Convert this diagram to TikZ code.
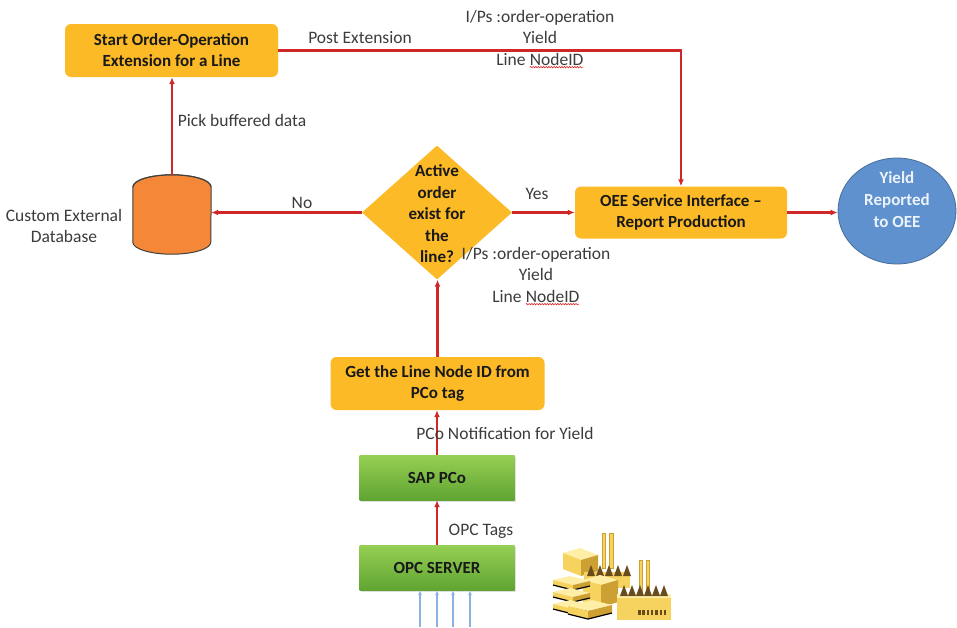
\documentclass[tikz,border=0pt]{standalone}
\usepackage{fontspec}
\setmainfont{Carlito}
\usetikzlibrary{arrows.meta,shapes.geometric,calc,decorations.pathmorphing,shadows}

\definecolor{boxyellow}{RGB}{252,186,38}
\definecolor{flowred}{RGB}{208,40,40}
\definecolor{labelgray}{RGB}{60,60,60}
\definecolor{greentop}{RGB}{150,208,84}
\definecolor{greenbot}{RGB}{96,164,50}
\definecolor{ellblue}{RGB}{94,145,205}
\definecolor{dborange}{RGB}{244,136,56}
\definecolor{pcoblue}{RGB}{140,178,226}
\definecolor{spellred}{RGB}{220,40,40}
\definecolor{fLight}{RGB}{255,238,165}
\definecolor{fMid}{RGB}{246,210,95}
\definecolor{fDark}{RGB}{205,160,52}
\definecolor{fBrown}{RGB}{105,76,30}

% red wavy underline beneath a word
\newcommand\spellmark[1]{\tikz[baseline=(sw.base)]{\node[inner sep=0pt,outer sep=0pt](sw){#1};\draw[spellred,line width=0.6pt,decorate,decoration={snake,amplitude=0.7pt,segment length=2.6pt}]([yshift=-2pt]sw.south west)--([yshift=-2pt]sw.south east);}}

\tikzset{
  procbox/.style={rectangle, rounded corners=6pt, fill=boxyellow, text=black!90,
    font=\bfseries\fontsize{17}{21}\selectfont, align=center, inner sep=0pt},
  greenbox/.style={rectangle, top color=greentop, bottom color=greenbot, text=black!90,
    font=\bfseries\fontsize{17}{21}\selectfont, align=center, inner sep=0pt,
    drop shadow={opacity=0.25, shadow xshift=1pt, shadow yshift=-2pt}},
  lbl/.style={text=labelgray, font=\fontsize{17.5}{21.5}\selectfont, align=center, inner sep=0pt},
  flow/.style={draw=flowred, line width=2.2pt, -{Latex[length=7pt,width=6pt]}},
  sensor/.style={draw=pcoblue, line width=1.3pt, -{Latex[length=5pt,width=4pt]}},
}

\begin{document}
\begin{tikzpicture}[x=1pt,y=-1pt]
\useasboundingbox (0,0) rectangle (957,627);
\fill[white] (0,0) rectangle (957,627);

% process steps
\node[procbox, minimum width=213, minimum height=53] (start) at (171.5,50.5)
  {Start Order-Operation\\Extension for a Line};
\node[procbox, minimum width=212, minimum height=52] (oee) at (681,212.5)
  {OEE Service Interface --\\Report Production};
\node[procbox, minimum width=214, minimum height=53] (getid) at (437.5,383.5)
  {Get the Line Node ID from\\PCo tag};
\node[greenbox, minimum width=155, minimum height=45] (sap) at (437,477.5) {SAP PCo};
\node[greenbox, minimum width=155, minimum height=45] (opc) at (437,567.5) {OPC SERVER};

% decision
\node[diamond, fill=boxyellow, minimum width=150, minimum height=134, inner sep=0pt] (dec) at (437,212.5) {};
\node[procbox, fill=none, font=\bfseries\fontsize{17}{21.5}\selectfont] (dectext) at (437,214)
  {Active\\order\\exist for\\the\\line?};

% result
\node[ellipse, fill=ellblue, draw=ellblue!75!black, line width=0.8pt, minimum width=118, minimum height=106, inner sep=0pt] (yield) at (897,211) {};
\node[lbl, text={rgb,255:red,236;green,243;blue,252}, font=\bfseries\fontsize{17}{22}\selectfont] (yieldtext) at (897,200)
  {Yield\\Reported\\to OEE};

% database cylinder
\node[minimum width=78, minimum height=79, inner sep=0pt] (db) at (172,214.5) {};
\path[fill=dborange, draw=black!75, line width=1pt]
  (db.north west) ++(0,12) -- ($(db.south west)+(0,-12)$)
  arc[start angle=180, end angle=360, x radius=39, y radius=-12]
  -- ($(db.north east)+(0,12)$)
  arc[start angle=0, end angle=180, x radius=39, y radius=-12] -- cycle;
\draw[black!75, line width=1pt] ($(db.north west)+(0,12)$)
  arc[start angle=180, end angle=360, x radius=39, y radius=12];
\node[lbl] (dbtext) at (64,226) {Custom External\\Database};

% connectors
\draw[flow] (start.east) -| (oee.north);
\draw[flow] (db.north) -- (db.north |- start.south);
\draw[flow] (dec.west) -- (dec.west -| db.east);
\draw[flow] (dec.east) -- (dec.east -| oee.west);
\draw[flow] (oee.east) -- (oee.east -| yield.west);
\draw[flow] (getid.north) -- (getid.north |- dec.south);
\draw[flow] (sap.north) -- (sap.north |- getid.south);
\draw[flow] (opc.north) -- (opc.north |- sap.south);

% connector labels
\node[lbl] (postext) at (360,38) {Post Extension};
\node[lbl] (inputs1) at (540,39) {I/Ps :order-operation\\Yield\\Line \spellmark{NodeID}};
\node[lbl] (pick) at (242,120) {Pick buffered data};
\node[lbl] (no) at (302,203) {No};
\node[lbl] (yes) at (537,194) {Yes};
\node[lbl] (inputs2) at (536,276) {I/Ps :order-operation\\Yield\\Line \spellmark{NodeID}};
\node[lbl] (notif) at (505,433) {PCo Notification for Yield};
\node[lbl] (opctags) at (481,531) {OPC Tags};

% incoming sensor signals
\coordinate (s1) at (420,627);
\coordinate (s2) at (437,627);
\coordinate (s3) at (453,627);
\coordinate (s4) at (470,627);
\foreach \s in {s1,s2,s3,s4} \draw[sensor] (\s) -- (\s |- opc.south);

% factory icon
\begin{scope}[line width=0.4pt]
  % chimneys
  \fill[fMid, draw=fDark] (602,533) rectangle (605,568);
  \fill[fMid, draw=fDark] (609,533) rectangle (613,568);
  \fill[fMid, draw=fDark] (639,560) rectangle (642,592);
  \fill[fMid, draw=fDark] (646,560) rectangle (649,592);
  % back block
  \fill[fLight] (563,553) -- (580,548) -- (598,555) -- (581,560) -- cycle;
  \fill[fMid] (563,553) -- (581,560) -- (581,576) -- (563,569) -- cycle;
  \fill[fDark] (581,560) -- (598,555) -- (598,571) -- (581,576) -- cycle;
  % sawtooth hall
  \fill[fMid] (584,572) rectangle (630,588);
  \foreach \i in {0,...,4}
    \fill[fBrown] (587+9*\i,576) -- (591+9*\i,565) -- (595+9*\i,576) -- cycle;
  % middle block
  \fill[fLight] (583,580) -- (600,575) -- (618,580) -- (601,585) -- cycle;
  \fill[fMid] (583,580) -- (601,585) -- (601,607) -- (583,602) -- cycle;
  \fill[fDark] (601,585) -- (618,580) -- (618,602) -- (601,607) -- cycle;
  % stacked slabs
  \foreach \y in {580,592,604} {
    \fill[fLight] (553,\y) -- (570,\y-4) -- (590,\y+1) -- (573,\y+5) -- cycle;
    \fill[fMid] (553,\y) -- (573,\y+5) -- (573,\y+10) -- (553,\y+5) -- cycle;
    \fill[fDark] (573,\y+5) -- (590,\y+1) -- (590,\y+6) -- (573,\y+10) -- cycle;
    \draw[black, line width=1.2pt] (553,\y+5) -- (573,\y+10) -- (590,\y+6);
  }
  % front slab
  \fill[fLight] (568,606) -- (592,600) -- (612,605) -- (588,611) -- cycle;
  \fill[fMid] (568,606) -- (588,611) -- (588,619) -- (568,614) -- cycle;
  \fill[fDark] (588,611) -- (612,605) -- (612,613) -- (588,619) -- cycle;
  \draw[black, line width=1.2pt] (568,614) -- (588,619) -- (612,613);
  % right hall
  \fill[fMid] (617,594) rectangle (671,620);
  \fill[fLight] (617,594) rectangle (671,598);
  \foreach \i in {0,...,5}
    \fill[fBrown] (620+8*\i,596) -- (624+8*\i,585) -- (628+8*\i,596) -- cycle;
  \foreach \i in {0,...,6}
    \fill[fBrown] (638+4.3*\i,610) rectangle (640.5+4.3*\i,615);
\end{scope}
\end{tikzpicture}
\end{document}
